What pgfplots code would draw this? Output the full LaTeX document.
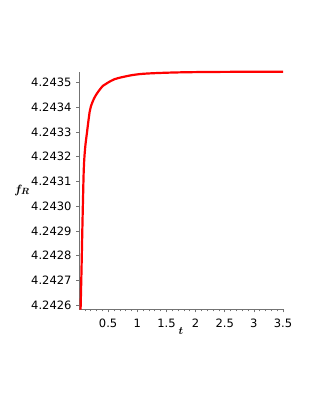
\documentclass[border=0pt]{standalone}
\usepackage{pgfplots}
\pgfplotsset{compat=1.18}
\usepackage{fontspec}
\usepackage{amsmath}
\setmainfont{DejaVu Sans}
\begin{document}
\begin{tikzpicture}
\path[use as bounding box] (0pt,0pt) rectangle (316pt,409pt);
% y values stored as (f_R - 4.2426) in units of 1e-4 (avoids TeX precision loss)
\begin{axis}[
  at={(79pt,99.7pt)}, anchor=south west,
  scale only axis, width=204pt, height=237pt,
  xmin=0, xmax=3.5,
  ymin=-0.174, ymax=9.42,
  axis x line=bottom, axis y line=left,
  axis line style={-, black!55, line width=0.8pt},
  tick style={black!55, line width=0.6pt},
  tick align=outside,
  major tick length=3pt, minor tick length=2pt,
  xtick={0.5,1,1.5,2,2.5,3,3.5},
  xticklabels={0.5,1,1.5,2,2.5,3,3.5},
  minor xtick={0.1,0.2,0.3,0.4,0.6,0.7,0.8,0.9,1.1,1.2,1.3,1.4,1.6,1.7,1.8,1.9,2.1,2.2,2.3,2.4,2.6,2.7,2.8,2.9,3.1,3.2,3.3,3.4},
  ytick={0,1,2,3,4,5,6,7,8,9},
  yticklabels={4.2426,4.2427,4.2428,4.2429,4.2430,4.2431,4.2432,4.2433,4.2434,4.2435},
  ticklabel style={font=\fontsize{11.5}{13}\selectfont, text=black},
  xticklabel style={yshift=-3pt},
  yticklabel style={xshift=-1pt},
  /pgf/number format/assume math mode=true,
  xlabel={$\boldsymbol{t}$}, ylabel={$\boldsymbol{f_R}$},
  xlabel style={at={(axis description cs:0.5,-0.092)}, anchor=center, font=\fontsize{11}{13}\selectfont},
  ylabel style={at={(axis description cs:-0.279,0.503)}, anchor=center, rotate=-90, font=\fontsize{13}{15}\selectfont},
  clip=false,
]
\addplot[red, line width=2.2pt, smooth, tension=0.6] coordinates {
(0.027,-0.17)
(0.029,0.0)
(0.043,1.42)
(0.057,3.04)
(0.069,4.3)
(0.083,5.55)
(0.105,6.35)
(0.138,7.0)
(0.171,7.62)
(0.202,8.02)
(0.281,8.46)
(0.409,8.87)
(0.495,9.0)
(0.609,9.14)
(0.753,9.23)
(0.95,9.32)
(1.17,9.37)
(1.6,9.41)
(2.09,9.43)
(2.8,9.44)
(3.5,9.44)
};
\end{axis}
\end{tikzpicture}
\end{document}
